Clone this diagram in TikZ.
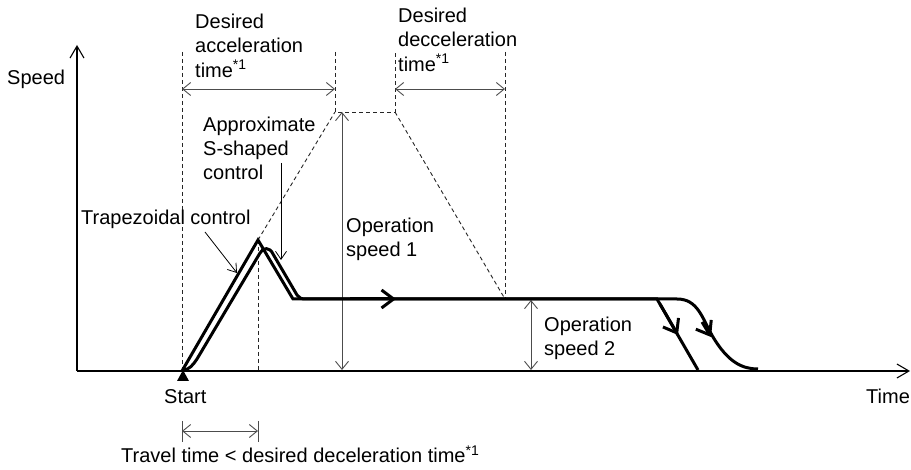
\documentclass[tikz,border=0pt]{standalone}
\usepackage{fontspec}
\setmainfont{Liberation Sans}
\usetikzlibrary{arrows.meta}
\begin{document}
\begin{tikzpicture}[x=1pt,y=-1pt,
  lbl/.style={anchor=base west, inner sep=0pt, font=\fontsize{20}{24}\selectfont},
  axisline/.style={line width=1.1pt, -{Straight Barb[length=12pt,width=14pt]}},
  dimline/.style={line width=0.9pt, draw=black!70,
    {Straight Barb[length=8pt,width=13pt]}-{Straight Barb[length=8pt,width=13pt]}},
  tickline/.style={line width=0.9pt, draw=black!70},
  pointer/.style={line width=0.8pt, -{Straight Barb[length=8pt,width=11pt]}},
  guide/.style={line width=0.9pt, dash pattern=on 4pt off 3pt, draw=black!85},
  curve/.style={line width=3pt, line join=miter},
  curvetip/.style={line width=3pt, -{Straight Barb[length=12pt,width=18pt]}},
]
\useasboundingbox (0,0) rectangle (911,470);

% key points
\coordinate (O) at (77,371);
\coordinate (Ytop) at (77,45);
\coordinate (Xend) at (910,371);
\coordinate (S0) at (182,371);
\coordinate (Apex) at (258,240);
\coordinate (Low) at (293,299);
\coordinate (TL) at (335,112);
\coordinate (TR) at (395,112);
\coordinate (DecEnd) at (505,299);
\coordinate (TrapOff) at (657,299);
\coordinate (TrapEnd) at (698,370);

% axes
\draw[axisline] (O) -- (Ytop);
\draw[axisline] (O) -- (Xend);

% dashed guides
\coordinate (G1t) at (182,52);
\coordinate (G2t) at (335,52);
\coordinate (G3t) at (395,52);
\coordinate (G4t) at (505,52);
\coordinate (G5b) at (258,371);
\draw[guide] (G1t) -- (S0);
\draw[guide] (G2t) -- (TL) -- (TR) -- (G3t);
\draw[guide] (G4t) -- (DecEnd);
\draw[guide] (Apex) -- (TL);
\draw[guide] (TR) -- (DecEnd);
\draw[guide] (Apex) -- (G5b);

% dimension arrows
\coordinate (A1) at (182,89); \coordinate (A2) at (335,89);
\coordinate (D1) at (395,89); \coordinate (D2) at (505,89);
\draw[dimline] (A1) -- (A2);
\draw[dimline] (D1) -- (D2);
\coordinate (V1t) at (342,112); \coordinate (V1b) at (342,370);
\draw[dimline] (V1t) -- (V1b);
\coordinate (V2t) at (531,300); \coordinate (V2b) at (531,370);
\draw[dimline] (V2t) -- (V2b);
\coordinate (T1) at (182,431); \coordinate (T2) at (258,431);
\coordinate (T1a) at (182,421); \coordinate (T1b) at (182,442);
\coordinate (T2a) at (258,421); \coordinate (T2b) at (258,442);
\draw[tickline] (T1a) -- (T1b);
\draw[tickline] (T2a) -- (T2b);
\draw[dimline] (T1) -- (T2);

% trapezoidal control
\draw[curve] (S0) -- (Apex) -- (Low) -- (TrapOff) -- (TrapEnd);
\coordinate (HA1) at (350,299); \coordinate (HA2) at (396,299);
\draw[curvetip] (HA1) -- (HA2);
\coordinate (DA1) at (660,304); \coordinate (DA2) at (678,335);
\draw[curvetip] (DA1) -- (DA2);

% approximate S-shaped control
\coordinate (SEnd) at (758,369);
\draw[line width=3pt] (183,370) .. controls (189,370) and (193,365) .. (197,359)
  -- (260,253) .. controls (263,247) and (270,247) .. (273,254)
  -- (297,295) .. controls (299,298) and (301,299) .. (306,299)
  -- (677,299) .. controls (698,299) and (702,318) .. (713,337)
  .. controls (728,362) and (742,369) .. (SEnd);
\coordinate (SA1) at (702,322); \coordinate (SA2) at (711,337);
\draw[curvetip] (SA1) -- (SA2);

% start marker
\coordinate (StA) at (183,370);
\coordinate (StB) at (177,381);
\coordinate (StC) at (189,381);
\fill (StA) -- (StB) -- (StC) -- cycle;

% labels
\node[lbl] (speed) at (7,85) {Speed};
\node[lbl] (time) at (866,403) {Time};
\node[lbl] (start) at (164,403) {Start};
\node[lbl] (acc) at (195,29) {\begin{tabular}[t]{@{}l@{}}Desired\\acceleration\\time\textsuperscript{*1}\end{tabular}};
\node[lbl] (dec) at (398,23) {\begin{tabular}[t]{@{}l@{}}Desired\\decceleration\\time\textsuperscript{*1}\end{tabular}};
\node[lbl] (approx) at (203,132) {\begin{tabular}[t]{@{}l@{}}Approximate\\S-shaped\\control\end{tabular}};
\node[lbl] (trap) at (81,225) {Trapezoidal control};
\node[lbl] (op1) at (346,233) {\begin{tabular}[t]{@{}l@{}}Operation\\speed 1\end{tabular}};
\node[lbl] (op2) at (544,332) {\begin{tabular}[t]{@{}l@{}}Operation\\speed 2\end{tabular}};
\node[lbl] (travel) at (121,463) {Travel time < desired deceleration time\textsuperscript{*1}};

% pointers
\coordinate (P1s) at (205,232); \coordinate (P1e) at (237,273);
\draw[pointer] (P1s) -- (P1e);
\coordinate (P2s) at (281,163); \coordinate (P2e) at (281,260);
\draw[pointer] (P2s) -- (P2e);
\end{tikzpicture}
\end{document}
